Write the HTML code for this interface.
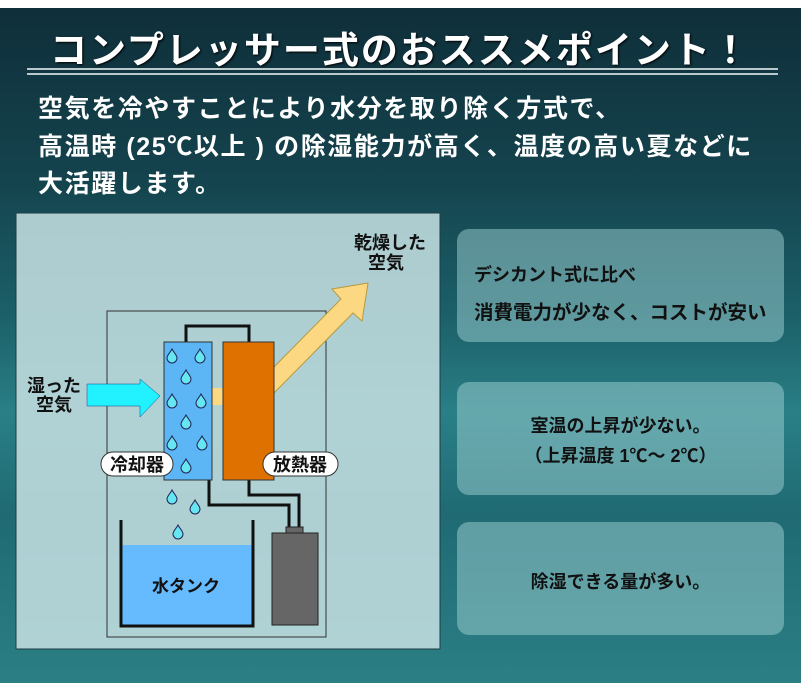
<!DOCTYPE html>
<html><head><meta charset="utf-8"><style>
body{margin:0;width:801px;height:696px;background:#fff;overflow:hidden;font-family:"Liberation Sans","Noto Sans CJK JP",sans-serif;}
.bg{position:absolute;left:0;top:8px;width:801px;height:675px;background:linear-gradient(180deg,#0f2f3a 0%,#14434d 25%,#1b5f68 45%,#2a7f86 60%,#1f6a73 75%,#2b7f85 100%);}
.t{position:absolute;color:#fff;font-weight:bold;white-space:nowrap;}
.box{position:absolute;left:457px;width:327px;height:113px;border-radius:12px;background:rgba(160,210,212,0.5);color:#111;font-weight:bold;font-size:18px;}
</style></head><body>
<div class="bg"></div>
<div class="t" style="left:0;width:801px;text-align:center;top:20px;font-size:37px;letter-spacing:2px;text-shadow:1px 1px 2px #000;">コンプレッサー式のおススメポイント！</div>
<div style="position:absolute;left:27px;top:68px;width:751px;height:2px;background:#b9c9cc"></div>
<div style="position:absolute;left:27px;top:73px;width:751px;height:2px;background:#b9c9cc"></div>
<div class="t" style="left:38px;top:91px;font-size:25px;letter-spacing:1.6px;line-height:37.5px;">空気を冷やすことにより水分を取り除く方式で、<br>高温時 (25℃以上 ) の除湿能力が高く、温度の高い夏などに<br>大活躍します。</div>

<svg style="position:absolute;left:0;top:0" width="801" height="696">
<rect x="16" y="213" width="424" height="436" fill="rgba(195,222,224,0.88)" stroke="#1d3d44" stroke-width="1"/>
<rect x="107" y="311" width="219" height="326" fill="none" stroke="#333" stroke-width="1"/>
<polyline points="186,342 186,326 249,326 249,342" fill="none" stroke="#111" stroke-width="3"/>
<polyline points="209,480 209,505 289,505 289,528" fill="none" stroke="#111" stroke-width="3"/>
<polyline points="249,480 249,495 299,495 299,528" fill="none" stroke="#111" stroke-width="3"/>
<rect x="286" y="527" width="17" height="7" fill="#666" stroke="#222"/>
<rect x="272" y="533" width="46" height="92" fill="#666" stroke="#222"/>
<rect x="122" y="545" width="130" height="80" fill="#66bbff"/>
<polyline points="121,520 121,626 253,626 253,520" fill="none" stroke="#111" stroke-width="3"/>
<polygon points="274,367 341,299 332,289 368,283 362,321 353,313 274,393" fill="#fdd882" stroke="#b89a40" stroke-width="1"/>
<rect x="211" y="388" width="13" height="17" fill="#fdd882"/>
<rect x="164" y="342" width="48" height="138" fill="#5cb5f5" stroke="#333" stroke-width="1"/>
<rect x="223" y="342" width="51" height="138" fill="#df7100" stroke="#333" stroke-width="1"/>
<polygon points="87,384 140,384 140,379 160,396 140,417 140,406 87,406" fill="#22f2ff" stroke="#148" stroke-width="0.5"/>
<g fill="#66e6f0" stroke="#225" stroke-width="1">
<path id="d" d="M0,-6 C2,-2 5,0 5,3 A5,5 0 0 1 -5,3 C-5,0 -2,-2 0,-6Z" transform="translate(172,355)"/>
<use href="#d" transform="translate(28,0)"/><use href="#d" transform="translate(14,21)"/>
<use href="#d" transform="translate(0,45)"/><use href="#d" transform="translate(29,45)"/>
<use href="#d" transform="translate(14,66)"/><use href="#d" transform="translate(0,87)"/>
<use href="#d" transform="translate(30,87)"/><use href="#d" transform="translate(14,110)"/>
<use href="#d" transform="translate(0,141)"/><use href="#d" transform="translate(23,151)"/>
<use href="#d" transform="translate(6,176)"/>
</g>
<rect x="101" y="452" width="72" height="24" rx="12" fill="#fff" stroke="#333"/>
<rect x="263" y="452" width="75" height="24" rx="12" fill="#fff" stroke="#333"/>
<g font-family="Liberation Sans,Noto Sans CJK JP,sans-serif" font-weight="bold" fill="#111">
<text x="137" y="471" font-size="18" text-anchor="middle">冷却器</text>
<text x="300" y="471" font-size="18" text-anchor="middle">放熱器</text>
<text x="54" y="392" font-size="18" text-anchor="middle">湿った</text>
<text x="54" y="411" font-size="18" text-anchor="middle">空気</text>
<text x="390" y="249" font-size="18" text-anchor="middle">乾燥した</text>
<text x="386" y="269" font-size="18" text-anchor="middle">空気</text>
<text x="186" y="592" font-size="17" text-anchor="middle">水タンク</text>
</g>
</svg>

<div class="box" style="top:229px;"><div style="position:absolute;left:17px;top:32px;">デシカント式に比べ</div><div style="position:absolute;left:17px;top:67px;font-size:19.5px;">消費電力が少なく、コストが安い</div></div>
<div class="box" style="top:382px;"><div style="position:absolute;left:0;width:327px;text-align:center;top:30px;">室温の上昇が少ない。</div><div style="position:absolute;left:0;width:327px;text-align:center;top:60px;">（上昇温度 1℃～ 2℃）</div></div>
<div class="box" style="top:522px;"><div style="position:absolute;left:0;width:327px;text-align:center;top:46px;">除湿できる量が多い。</div></div>
</body></html>
